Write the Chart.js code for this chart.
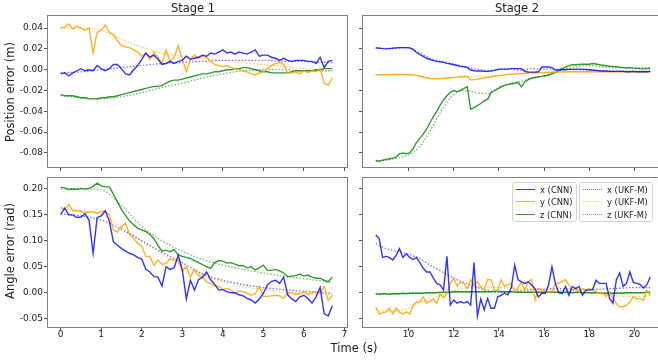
<!DOCTYPE html>
<html>
<head>
<meta charset="utf-8">
<script src="https://cdn.jsdelivr.net/npm/chart.js@4.4.0/dist/chart.umd.min.js"></script>
<style>
  html, body { margin: 0; padding: 0; background: #fff; overflow: hidden; }
  #fig { position: relative; width: 658px; height: 362px; overflow: hidden;
         font-family: "DejaVu Sans", sans-serif; color: #222; }
  canvas { position: absolute; }
  .txt { position: absolute; white-space: nowrap; font-size: 11.5px; line-height: 11.5px;
         transform: translate(-50%, -50%); }
  .rot { transform: translate(-50%, -50%) rotate(-90deg); }
  .legend { position: absolute; box-sizing: border-box; border: 1px solid #d4d4d4; border-radius: 3px;
            background: rgba(255,255,255,0.85); font-size: 8.4px; }
  .row { position: absolute; left: 0; right: 0; height: 10px; line-height: 10px; }
  .sample { position: absolute; left: 3px; width: 19px; top: 4px; height: 0; }
  .lab { position: absolute; left: 27px; top: 0; white-space: nowrap; }
</style>
</head>
<body>
<div id="fig">
  <canvas id="posStage1" width="352" height="178" style="left:0px;top:7px"></canvas>
  <canvas id="posStage2" width="312" height="178" style="left:356px;top:7px"></canvas>
  <canvas id="angStage1" width="352" height="181" style="left:0px;top:169px"></canvas>
  <canvas id="angStage2" width="312" height="181" style="left:356px;top:169px"></canvas>

  <div class="txt" style="left:193px;top:9px">Stage 1</div>
  <div class="txt" style="left:517px;top:9px">Stage 2</div>
  <div class="txt rot" style="left:11px;top:92px">Position error (m)</div>
  <div class="txt rot" style="left:11px;top:251px">Angle error (rad)</div>
  <div class="txt" style="left:354px;top:349px">Time (s)</div>

  <div class="legend" id="legCnn" style="left:512px;top:182px;width:65px;height:40px"></div>
  <div class="legend" id="legUkf" style="left:579px;top:182px;width:74px;height:40px"></div>
</div>

<script>
// TIME GRIDS
const stage1Step = 0.1;
const stage2Start = 8.55, stage2Step = 0.15;
const ukfTime1 = [0, 0.5, 1, 1.5, 2, 2.5, 3, 3.5, 4, 4.5, 5, 5.5, 6, 6.5, 6.7];
const ukfTime2 = [8.55, 9, 9.5, 10, 10.5, 11, 11.5, 12, 12.5, 13, 13.5, 14, 14.5, 15, 15.5,
    16, 16.5, 17, 17.5, 18, 18.5, 19, 19.5, 20, 20.7];

// TICKS
const xTicks1 = [0, 1, 2, 3, 4, 5, 6, 7];
const xLabels1 = ['0', '1', '2', '3', '4', '5', '6', '7'];
const xTicks2 = [10, 12, 14, 16, 18, 20];
const xLabels2 = ['10', '12', '14', '16', '18', '20'];
const posTicks = [-0.08, -0.06, -0.04, -0.02, 0, 0.02, 0.04];
const posLabels = ['-0.08', '-0.06', '-0.04', '-0.02', '0.00', '0.02', '0.04'];
const angTicks = [-0.05, 0, 0.05, 0.10, 0.15, 0.20];
const angLabels = ['-0.05', '0.00', '0.05', '0.10', '0.15', '0.20'];

// STAGE 1 - POSITION ERROR (CNN)
const posX1 = [-0.004, -0.003, -0.006, -0.003, -0.001, 0.001, -0.001, 0.000, -0.001, 0.004,
    0.001, -0.001, 0.001, 0.005, 0.005, 0.001, -0.004, -0.005, 0.000, 0.004,
    0.010, 0.016, 0.012, 0.014, 0.010, 0.005, 0.006, 0.008, 0.006, 0.008,
    0.009, 0.013, 0.010, 0.011, 0.012, 0.014, 0.013, 0.016, 0.015, 0.017,
    0.019, 0.016, 0.017, 0.015, 0.017, 0.016, 0.015, 0.017, 0.019, 0.013,
    0.014, 0.014, 0.012, 0.011, 0.009, 0.011, 0.009, 0.008, 0.009, 0.009,
    0.009, 0.008, 0.008, 0.006, 0.012, 0.002, 0.008, 0.009];
const posY1 = [0.040, 0.041, 0.044, 0.039, 0.042, 0.040, 0.038, 0.040, 0.016, 0.036,
    0.038, 0.043, 0.036, 0.034, 0.028, 0.023, 0.022, 0.021, 0.019, 0.017,
    0.013, 0.016, 0.010, 0.017, 0.012, 0.006, 0.019, 0.008, 0.012, 0.023,
    0.010, -0.002, 0.010, 0.014, 0.011, 0.013, 0.012, 0.008, 0.005, 0.004,
    0.003, 0.004, 0.002, 0.001, 0.000, -0.001, -0.002, -0.004, -0.005, -0.003,
    -0.002, 0.001, 0.004, 0.006, 0.007, 0.005, -0.003, -0.003, -0.002, -0.004,
    -0.001, -0.003, -0.001, -0.002, 0.001, -0.013, -0.015, -0.008];
const posZ1 = [-0.024, -0.025, -0.025, -0.025, -0.026, -0.027, -0.027, -0.028, -0.028, -0.028,
    -0.027, -0.027, -0.026, -0.026, -0.025, -0.024, -0.023, -0.022, -0.021, -0.020,
    -0.019, -0.018, -0.017, -0.016, -0.016, -0.015, -0.013, -0.011, -0.010, -0.010,
    -0.009, -0.008, -0.007, -0.006, -0.005, -0.004, -0.004, -0.003, -0.002, -0.002,
    -0.001, 0.000, 0.000, 0.001, 0.001, 0.002, 0.002, 0.001, 0.000, -0.001,
    -0.002, -0.002, -0.003, -0.003, -0.003, -0.003, -0.003, -0.002, -0.001, -0.001,
    -0.001, -0.001, -0.001, 0.000, 0.000, 0.001, 0.001, 0.001];

// STAGE 1 - POSITION ERROR (UKF-M)
const posXUkf1 = [-0.003, -0.002, 0.000, 0.002, 0.004, 0.006, 0.007, 0.008, 0.009, 0.009, 0.009, 0.008, 0.008, 0.007, 0.007];
const posYUkf1 = [0.040, 0.040, 0.038, 0.029, 0.022, 0.016, 0.013, 0.011, 0.009, 0.007, 0.005, 0.003, 0.001, -0.001, -0.001];
const posZUkf1 = [-0.025, -0.027, -0.028, -0.026, -0.022, -0.017, -0.013, -0.008, -0.004, -0.001, 0.000, 0.000, -0.001, -0.001, -0.001];

// STAGE 1 - ANGLE ERROR (CNN)
const angX1 = [0.151, 0.163, 0.150, 0.150, 0.145, 0.146, 0.152, 0.140, 0.076, 0.145,
    0.148, 0.158, 0.138, 0.098, 0.092, 0.085, 0.080, 0.076, 0.073, 0.068,
    0.065, 0.045, 0.040, 0.031, 0.030, 0.013, 0.050, 0.045, 0.048, 0.072,
    0.044, -0.012, 0.024, 0.005, 0.025, 0.030, 0.040, 0.025, 0.016, 0.005,
    0.006, 0.002, 0.000, 0.000, -0.004, -0.006, -0.011, -0.014, -0.020, -0.012,
    -0.001, 0.015, 0.022, 0.024, 0.018, 0.030, -0.004, -0.012, -0.017, -0.008,
    -0.005, -0.011, -0.020, -0.008, 0.010, -0.040, -0.045, -0.025];
const angY1 = [0.165, 0.160, 0.170, 0.158, 0.158, 0.157, 0.154, 0.155, 0.156, 0.153,
    0.157, 0.156, 0.150, 0.121, 0.117, 0.127, 0.134, 0.112, 0.105, 0.095,
    0.089, 0.070, 0.070, 0.053, 0.063, 0.055, 0.056, 0.066, 0.063, 0.062,
    0.042, 0.050, 0.030, 0.045, 0.033, 0.030, 0.021, 0.018, 0.013, 0.012,
    0.006, 0.008, 0.005, -0.001, 0.003, 0.002, -0.001, -0.005, -0.002, 0.012,
    -0.007, -0.007, -0.006, -0.005, -0.006, -0.011, -0.001, 0.000, -0.004, -0.002,
    0.002, -0.004, 0.001, 0.002, 0.000, 0.012, -0.015, -0.005];
const angZ1 = [0.203, 0.202, 0.199, 0.200, 0.199, 0.201, 0.200, 0.201, 0.205, 0.211,
    0.206, 0.204, 0.204, 0.190, 0.175, 0.160, 0.149, 0.138, 0.131, 0.124,
    0.121, 0.118, 0.112, 0.104, 0.091, 0.080, 0.082, 0.079, 0.083, 0.073,
    0.070, 0.068, 0.066, 0.062, 0.058, 0.054, 0.050, 0.047, 0.058, 0.062,
    0.061, 0.057, 0.058, 0.055, 0.052, 0.052, 0.048, 0.050, 0.044, 0.048,
    0.053, 0.043, 0.043, 0.045, 0.042, 0.038, 0.031, 0.032, 0.033, 0.036,
    0.032, 0.034, 0.030, 0.028, 0.028, 0.024, 0.021, 0.030];

// STAGE 1 - ANGLE ERROR (UKF-M)
const angXUkf1 = [0.152, 0.148, 0.140, 0.122, 0.100, 0.078, 0.058, 0.036, 0.024, 0.016, 0.010, 0.006, 0.003, 0.000, -0.001];
const angYUkf1 = [0.162, 0.158, 0.152, 0.126, 0.100, 0.075, 0.052, 0.034, 0.021, 0.012, 0.006, 0.002, -0.001, -0.003, -0.004];
const angZUkf1 = [0.200, 0.200, 0.198, 0.168, 0.128, 0.100, 0.080, 0.064, 0.053, 0.045, 0.038, 0.032, 0.027, 0.022, 0.020];

// STAGE 2 - POSITION ERROR (CNN)
const posX2 = [0.0210, 0.0207, 0.0203, 0.0200, 0.0203, 0.0206, 0.0210, 0.0212, 0.0212, 0.0212,
    0.0210, 0.0195, 0.0165, 0.0145, 0.0128, 0.0110, 0.0098, 0.0087, 0.0080, 0.0077,
    0.0070, 0.0061, 0.0055, 0.0048, 0.0040, 0.0032, 0.0028, 0.0022, -0.0003, -0.0010,
    -0.0013, -0.0013, -0.0016, -0.0016, -0.0013, -0.0006, 0.0003, 0.0006, 0.0006, 0.0006,
    0.0010, 0.0010, 0.0010, 0.0010, -0.0015, -0.0023, -0.0023, -0.0023, -0.0020, 0.0026,
    0.0026, 0.0026, 0.0020, -0.0003, -0.0003, 0.0000, 0.0000, 0.0003, 0.0003, 0.0006,
    0.0006, 0.0006, 0.0003, 0.0000, -0.0003, -0.0006, -0.0010, -0.0013, -0.0013, -0.0016,
    -0.0016, -0.0016, -0.0016, -0.0016, -0.0020, -0.0020, -0.0016, -0.0020, -0.0020, -0.0020,
    -0.0020, -0.0016];
const posY2 = [-0.0050, -0.0049, -0.0048, -0.0047, -0.0047, -0.0046, -0.0045, -0.0046, -0.0047, -0.0048,
    -0.0048, -0.0050, -0.0055, -0.0062, -0.0070, -0.0080, -0.0085, -0.0087, -0.0087, -0.0085,
    -0.0083, -0.0080, -0.0077, -0.0074, -0.0071, -0.0068, -0.0065, -0.0063, -0.0100, -0.0095,
    -0.0090, -0.0085, -0.0080, -0.0074, -0.0068, -0.0063, -0.0058, -0.0054, -0.0050, -0.0047,
    -0.0044, -0.0041, -0.0038, -0.0036, -0.0034, -0.0032, -0.0030, -0.0029, -0.0028, -0.0027,
    -0.0026, -0.0025, -0.0024, -0.0023, -0.0022, -0.0021, -0.0020, -0.0020, -0.0019, -0.0019,
    -0.0019, -0.0019, -0.0019, -0.0019, -0.0019, -0.0019, -0.0020, -0.0020, -0.0020, -0.0020,
    -0.0020, -0.0021, -0.0021, -0.0021, -0.0022, -0.0022, -0.0022, -0.0023, -0.0023, -0.0023,
    -0.0023, -0.0023];
const posZ2 = [-0.0872, -0.0880, -0.0870, -0.0862, -0.0856, -0.0850, -0.0840, -0.0810, -0.0800, -0.0808,
    -0.0800, -0.0760, -0.0700, -0.0660, -0.0620, -0.0570, -0.0510, -0.0450, -0.0400, -0.0340,
    -0.0290, -0.0250, -0.0220, -0.0200, -0.0210, -0.0200, -0.0180, -0.0165, -0.0380, -0.0365,
    -0.0345, -0.0325, -0.0300, -0.0285, -0.0220, -0.0200, -0.0185, -0.0165, -0.0150, -0.0143,
    -0.0135, -0.0130, -0.0123, -0.0165, -0.0115, -0.0095, -0.0080, -0.0075, -0.0068, -0.0064,
    -0.0058, -0.0053, -0.0040, -0.0028, -0.0010, 0.0010, 0.0025, 0.0040, 0.0047, 0.0048,
    0.0050, 0.0052, 0.0052, 0.0052, 0.0060, 0.0055, 0.0048, 0.0043, 0.0038, 0.0033,
    0.0032, 0.0028, 0.0023, 0.0020, 0.0017, 0.0020, 0.0015, 0.0013, 0.0010, 0.0008,
    0.0010, 0.0012];

// STAGE 2 - POSITION ERROR (UKF-M)
const posXUkf2 = [0.0210, 0.0205, 0.0208, 0.0210, 0.0160, 0.0105, 0.0078, 0.0055, 0.0030, 0.0005,
    -0.0008, 0.0000, 0.0008, -0.0005, 0.0010, 0.0005, 0.0005, 0.0003, 0.0000, -0.0005,
    -0.0010, -0.0013, -0.0015, -0.0015, -0.0015];
const posYUkf2 = [-0.0048, -0.0047, -0.0046, -0.0048, -0.0062, -0.0083, -0.0085, -0.0077, -0.0068, -0.0065,
    -0.0062, -0.0055, -0.0045, -0.0038, -0.0032, -0.0028, -0.0025, -0.0022, -0.0020, -0.0019,
    -0.0019, -0.0018, -0.0018, -0.0018, -0.0018];
const posZUkf2 = [-0.088, -0.087, -0.085, -0.082, -0.074, -0.057, -0.038, -0.024, -0.020, -0.022,
    -0.023, -0.017, -0.013, -0.011, -0.008, -0.006, -0.002, 0.001, 0.003, 0.004,
    0.003, 0.002, 0.002, 0.002, 0.002];

// STAGE 2 - ANGLE ERROR (CNN)
const angX2 = [0.111, 0.105, 0.068, 0.070, 0.068, 0.063, 0.072, 0.085, 0.068, 0.075,
    0.068, 0.064, 0.068, 0.058, 0.047, 0.040, 0.040, 0.028, 0.018, 0.015,
    0.005, 0.070, -0.024, -0.014, -0.020, -0.017, -0.020, -0.017, -0.024, 0.058,
    -0.045, -0.012, -0.033, -0.011, -0.030, -0.030, -0.008, -0.005, -0.001, -0.004,
    0.010, 0.053, 0.025, 0.021, 0.018, 0.021, 0.015, 0.008, -0.008, -0.001,
    -0.001, 0.015, 0.050, 0.018, 0.000, -0.002, 0.012, -0.005, 0.012, 0.008,
    0.012, -0.005, 0.005, 0.005, 0.006, 0.024, 0.018, 0.018, 0.018, -0.011,
    -0.020, 0.025, 0.038, 0.012, 0.018, 0.040, 0.020, 0.018, 0.016, 0.009,
    0.015, 0.030];
const angY2 = [-0.028, -0.041, -0.039, -0.037, -0.030, -0.041, -0.030, -0.038, -0.041, -0.037,
    -0.041, -0.025, -0.018, -0.018, -0.008, -0.020, -0.017, -0.012, -0.020, -0.002,
    -0.010, -0.002, 0.018, 0.028, 0.013, 0.020, 0.018, 0.008, 0.025, 0.015,
    0.022, 0.011, 0.005, 0.025, 0.025, 0.005, 0.005, 0.025, 0.012, 0.015,
    0.018, 0.002, 0.009, 0.020, 0.005, 0.021, 0.025, -0.014, 0.008, 0.005,
    0.002, 0.002, 0.002, 0.018, 0.018, 0.022, 0.025, 0.015, 0.005, 0.008,
    0.002, 0.008, 0.005, 0.008, 0.005, 0.002, -0.001, 0.000, -0.008, 0.001,
    -0.011, -0.021, -0.027, -0.027, -0.024, -0.018, -0.008, -0.012, -0.011, -0.015,
    0.005, -0.005];
const angZ2 = [-0.002, -0.003, -0.002, -0.002, -0.003, -0.002, -0.002, -0.002, -0.001, -0.002,
    -0.001, -0.001, -0.001, -0.001, -0.001, 0.000, 0.000, 0.000, 0.000, 0.001,
    0.001, 0.001, 0.001, 0.002, 0.002, 0.002, 0.002, 0.002, 0.002, 0.002,
    0.002, 0.002, 0.002, 0.002, 0.002, 0.003, 0.003, 0.002, 0.002, 0.002,
    0.002, 0.001, 0.001, 0.001, 0.001, 0.001, 0.001, 0.001, 0.001, 0.001,
    0.001, 0.001, 0.001, 0.001, 0.001, 0.001, 0.001, 0.001, 0.000, 0.001,
    0.001, 0.000, 0.000, 0.000, 0.000, 0.000, 0.000, -0.001, -0.001, -0.001,
    -0.001, -0.001, -0.001, -0.001, 0.000, 0.000, 0.000, 0.000, 0.000, 0.000,
    0.001, 0.001];

// STAGE 2 - ANGLE ERROR (UKF-M)
const angXUkf2 = [0.095, 0.085, 0.080, 0.074, 0.066, 0.052, 0.040, 0.028, 0.019, 0.011,
    0.004, 0.000, 0.002, 0.004, 0.006, 0.007, 0.008, 0.007, 0.006, 0.006,
    0.007, 0.008, 0.009, 0.010, 0.010];
const angYUkf2 = [-0.033, -0.036, -0.035, -0.030, -0.020, -0.012, -0.004, 0.004, 0.009, 0.011,
    0.011, 0.010, 0.009, 0.008, 0.008, 0.006, 0.005, 0.004, 0.002, 0.000,
    -0.002, -0.005, -0.007, -0.007, -0.006];
const angZUkf2 = [-0.002, -0.002, -0.002, -0.001, -0.001, 0.000, 0.000, 0.001, 0.001, 0.001,
    0.002, 0.002, 0.002, 0.001, 0.001, 0.001, 0.001, 0.000, 0.000, 0.000,
    0.000, 0.000, 0.000, 0.000, 0.000];

// LEGEND
const cnnLabels = ['x (CNN)', 'y (CNN)', 'z (CNN)'];
const ukfLabels = ['x (UKF-M)', 'y (UKF-M)', 'z (UKF-M)'];
const cnnColors = ['rgba(0,0,255,0.8)', 'rgba(255,165,0,0.85)', 'rgba(0,128,0,0.8)'];
const ukfColors = ['rgba(0,0,255,0.55)', 'rgba(255,165,0,0.6)', 'rgba(0,128,0,0.55)'];

const cnnTime1 = posX1.map((_, i) => +(i * stage1Step).toFixed(2));
const cnnTime2 = posX2.map((_, i) => +(stage2Start + i * stage2Step).toFixed(2));

const textColor = '#1a1a1a';
const tickColor = '#555';
const frameColor = '#808080';

Chart.defaults.font.family = '"DejaVu Sans", sans-serif';
Chart.defaults.font.size = 9;
Chart.defaults.color = textColor;

// frame around the plot area, like matplotlib spines
const framePlugin = {
    id: 'frame',
    afterDatasetsDraw(chart) {
        const { ctx, chartArea: a } = chart;
        ctx.save();
        ctx.strokeStyle = frameColor;
        ctx.lineWidth = 1;
        ctx.strokeRect(Math.round(a.left) + 0.5, Math.round(a.top) + 0.5,
            Math.round(a.right - a.left) - 1, Math.round(a.bottom - a.top) - 1);
        ctx.restore();
    }
};

const pts = (ts, vs) => vs.map((v, i) => ({ x: ts[i], y: v }));

function lines(tC, cnn, tU, ukf) {
    const sets = [];
    cnn.forEach((vs, k) => sets.push({
        label: cnnLabels[k], data: pts(tC, vs), borderColor: cnnColors[k],
        borderWidth: 1.4, pointRadius: 0, tension: 0
    }));
    ukf.forEach((vs, k) => sets.push({
        label: ukfLabels[k], data: pts(tU, vs), borderColor: ukfColors[k],
        borderWidth: 1.3, borderDash: [1.5, 1.8], pointRadius: 0, cubicInterpolationMode: 'monotone'
    }));
    return sets;
}

function axis(min, max, ticks, labels, showLabels, size, horizontal) {
    return {
        type: 'linear', min: min, max: max,
        afterBuildTicks: ax => { ax.ticks = ticks.map(v => ({ value: v })); },
        afterFit: ax => { if (horizontal) ax.height = size; else ax.width = size; },
        ticks: {
            display: showLabels, autoSkip: false, maxRotation: 0,
            padding: horizontal ? -1.5 : 1,
            callback: v => labels[ticks.indexOf(v)]
        },
        grid: { drawOnChartArea: false, drawTicks: true, tickLength: 3, color: tickColor },
        border: { display: false }
    };
}

function panel(id, datasets, xs, ys) {
    new Chart(document.getElementById(id), {
        type: 'line',
        data: { datasets: datasets },
        options: {
            responsive: false, animation: false, devicePixelRatio: 1, events: [],
            layout: { padding: { top: 8, right: 4, left: 0, bottom: 0 } },
            plugins: { legend: { display: false }, tooltip: { enabled: false } },
            scales: { x: xs, y: ys }
        },
        plugins: [framePlugin]
    });
}

const posMin = -0.0945, posMax = 0.0526;
const angMin = -0.068, angMax = 0.223;

panel('posStage1', lines(cnnTime1, [posX1, posY1, posZ1], ukfTime1, [posXUkf1, posYUkf1, posZUkf1]),
    axis(-0.3375, 7.0875, xTicks1, xLabels1, false, 17, true),
    axis(posMin, posMax, posTicks, posLabels, true, 47, false));
panel('posStage2', lines(cnnTime2, [posX2, posY2, posZ2], ukfTime2, [posXUkf2, posYUkf2, posZUkf2]),
    axis(7.94, 21.31, xTicks2, xLabels2, false, 17, true),
    axis(posMin, posMax, posTicks, posLabels, false, 6, false));
panel('angStage1', lines(cnnTime1, [angX1, angY1, angZ1], ukfTime1, [angXUkf1, angYUkf1, angZUkf1]),
    axis(-0.3375, 7.0875, xTicks1, xLabels1, true, 22, true),
    axis(angMin, angMax, angTicks, angLabels, true, 47, false));
panel('angStage2', lines(cnnTime2, [angX2, angY2, angZ2], ukfTime2, [angXUkf2, angYUkf2, angZUkf2]),
    axis(7.94, 21.31, xTicks2, xLabels2, true, 22, true),
    axis(angMin, angMax, angTicks, angLabels, false, 6, false));

// HTML LEGEND
function fillLegend(id, labels, colors, style) {
    const box = document.getElementById(id);
    labels.forEach((txt, k) => {
        const row = document.createElement('div');
        row.className = 'row';
        row.style.top = (2 + k * 12.3) + 'px';
        const s = document.createElement('div');
        s.className = 'sample';
        s.style.borderTop = '1.6px ' + style + ' ' + colors[k];
        const l = document.createElement('div');
        l.className = 'lab';
        l.textContent = txt;
        row.appendChild(s);
        row.appendChild(l);
        box.appendChild(row);
    });
}
fillLegend('legCnn', cnnLabels, cnnColors, 'solid');
fillLegend('legUkf', ukfLabels, ukfColors, 'dotted');
</script>
</body>
</html>
